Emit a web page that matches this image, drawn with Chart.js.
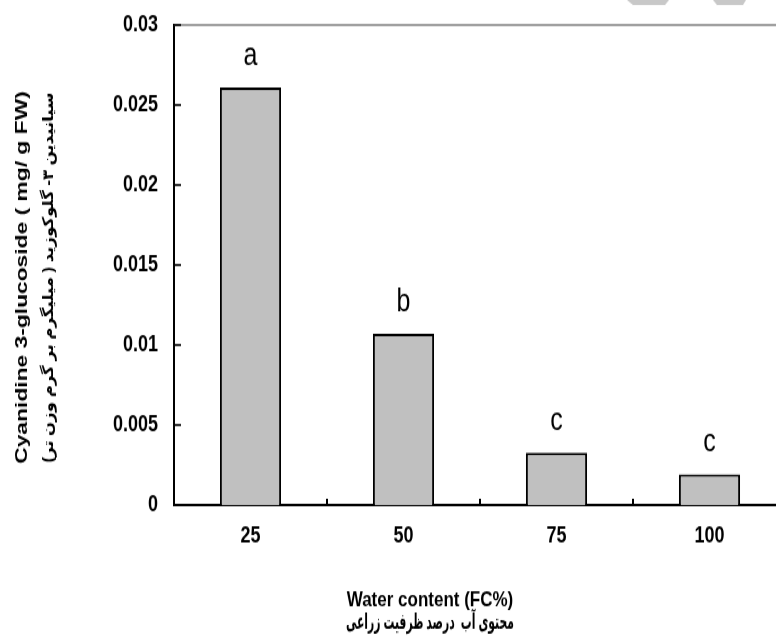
<!DOCTYPE html>
<html>
<head>
<meta charset="utf-8">
<script src="https://cdn.jsdelivr.net/npm/chart.js@4"></script>
<style>
  html { overflow: hidden; }
  body { margin: 0; padding: 0; background: #fff; width: 776px; height: 641px; }
  /* la figura original esta estirada en vertical */
  #caja { width: 786px; height: 513px; transform: scale(1, 1.25); transform-origin: 0 0; }
  canvas { display: block; }
</style>
</head>
<body>
<div id="caja"><canvas id="grafico" width="786" height="513"></canvas></div>
<script>
const categorias = ['25', '50', '75', '100'];
const valores = [0.0261, 0.0107, 0.00327, 0.00192];
const letras = ['a', 'b', 'c', 'c'];
const etiquetasY = ['0', '0.005', '0.01', '0.015', '0.02', '0.025', '0.03'];

const tituloXen = 'Water content (FC%)';
const tituloXfa = '\u202Bمحتوی آب  درصد ظرفیت زراعی\u202C';
const tituloYen = 'Cyanidine 3-glucoside ( mg/ g FW)';
const tituloYfa = '\u202Bسیانیدین ۳- گلوکوزید ( میلیگرم بر گرم وزن تر)\u202C';

const fuente = '"Liberation Sans", Arial, "DejaVu Sans", sans-serif';

// escribe un texto ajustado a un largo dado
function textoAjustado(ctx, texto, px, py, largo, giro) {
  ctx.save();
  const w = ctx.measureText(texto).width;
  ctx.translate(px, py);
  if (giro) ctx.rotate(-Math.PI / 2);
  ctx.scale(largo / w, 1);
  ctx.textAlign = 'center';
  ctx.textBaseline = 'middle';
  ctx.fillText(texto, 0, 0);
  ctx.restore();
}

// ticks hacia adentro, borde superior, letras y titulos
const extras = {
  id: 'extras',
  afterDraw(chart) {
    const ctx = chart.ctx;
    const area = chart.chartArea;
    const x = chart.scales.x;
    const y = chart.scales.y;
    ctx.save();

    ctx.strokeStyle = '#808080';
    ctx.lineWidth = 1.6;
    ctx.beginPath();
    ctx.moveTo(area.left, area.top);
    ctx.lineTo(area.right, area.top);
    ctx.stroke();

    ctx.strokeStyle = '#000';
    y.ticks.forEach((t) => {
      const py = y.getPixelForValue(t.value);
      ctx.lineWidth = 1.6;
      ctx.beginPath();
      ctx.moveTo(area.left, py);
      ctx.lineTo(area.left + 7, py);
      ctx.stroke();
    });
    for (let i = 0; i < categorias.length - 1; i++) {
      const px = Math.round((x.getPixelForValue(i) + x.getPixelForValue(i + 1)) / 2);
      ctx.lineWidth = 2;
      ctx.beginPath();
      ctx.moveTo(px, area.bottom);
      ctx.lineTo(px, area.bottom - 5);
      ctx.stroke();
    }

    // letras sobre las barras
    const meta = chart.getDatasetMeta(0);
    ctx.fillStyle = '#000';
    ctx.font = '25px ' + fuente;
    ctx.textAlign = 'center';
    ctx.textBaseline = 'alphabetic';
    meta.data.forEach((barra, i) => {
      ctx.fillText(letras[i], barra.x, barra.y - 18);
    });

    // titulo del eje X
    ctx.textBaseline = 'middle';
    ctx.font = 'bold 17px ' + fuente;
    ctx.fillText(tituloXen, 430, 480);
    ctx.font = 'bold 17px ' + fuente;
    textoAjustado(ctx, tituloXfa, 430, 498, 168, false);

    // titulo del eje Y (dos lineas)
    ctx.font = 'bold 17px ' + fuente;
    textoAjustado(ctx, tituloYen, 22, 222, 298, true);
    ctx.font = 'bold 15px ' + fuente;
    textoAjustado(ctx, tituloYfa, 49, 222, 296, true);

    // marca de agua cortada arriba
    ctx.fillStyle = '#c8c8c8';
    ctx.beginPath();
    ctx.moveTo(627, 0); ctx.lineTo(669, 0); ctx.lineTo(665, 4); ctx.lineTo(633, 4);
    ctx.closePath();
    ctx.fill();
    ctx.beginPath();
    ctx.moveTo(713, 0); ctx.lineTo(746, 0); ctx.lineTo(743, 4); ctx.lineTo(717, 4);
    ctx.closePath();
    ctx.fill();

    ctx.restore();
  }
};

const ctx = document.getElementById('grafico');

new Chart(ctx, {
  type: 'bar',
  data: {
    labels: categorias,
    datasets: [{
      data: valores,
      backgroundColor: '#c0c0c0',
      borderColor: '#000',
      borderWidth: 2,
      barPercentage: 0.4,
      categoryPercentage: 1.0
    }]
  },
  options: {
    responsive: false,
    animation: false,
    layout: { padding: { top: 20, left: 0, right: 0, bottom: 0 } },
    plugins: {
      legend: { display: false },
      tooltip: { enabled: false }
    },
    scales: {
      x: {
        grid: { display: false },
        border: { display: true, color: '#000', width: 2 },
        ticks: {
          color: '#000',
          padding: 6,
          font: { family: fuente, size: 18, weight: 'bold' }
        },
        afterFit(scale) { scale.height = 109; }
      },
      y: {
        min: 0,
        max: 0.03,
        grid: { display: false },
        border: { display: true, color: '#000', width: 2 },
        ticks: {
          stepSize: 0.005,
          color: '#000',
          padding: 8,
          font: { family: fuente, size: 18, weight: 'bold' },
          callback: (v, i) => etiquetasY[i]
        },
        afterFit(scale) { scale.width = 174; }
      }
    }
  },
  plugins: [extras]
});
</script>
</body>
</html>
